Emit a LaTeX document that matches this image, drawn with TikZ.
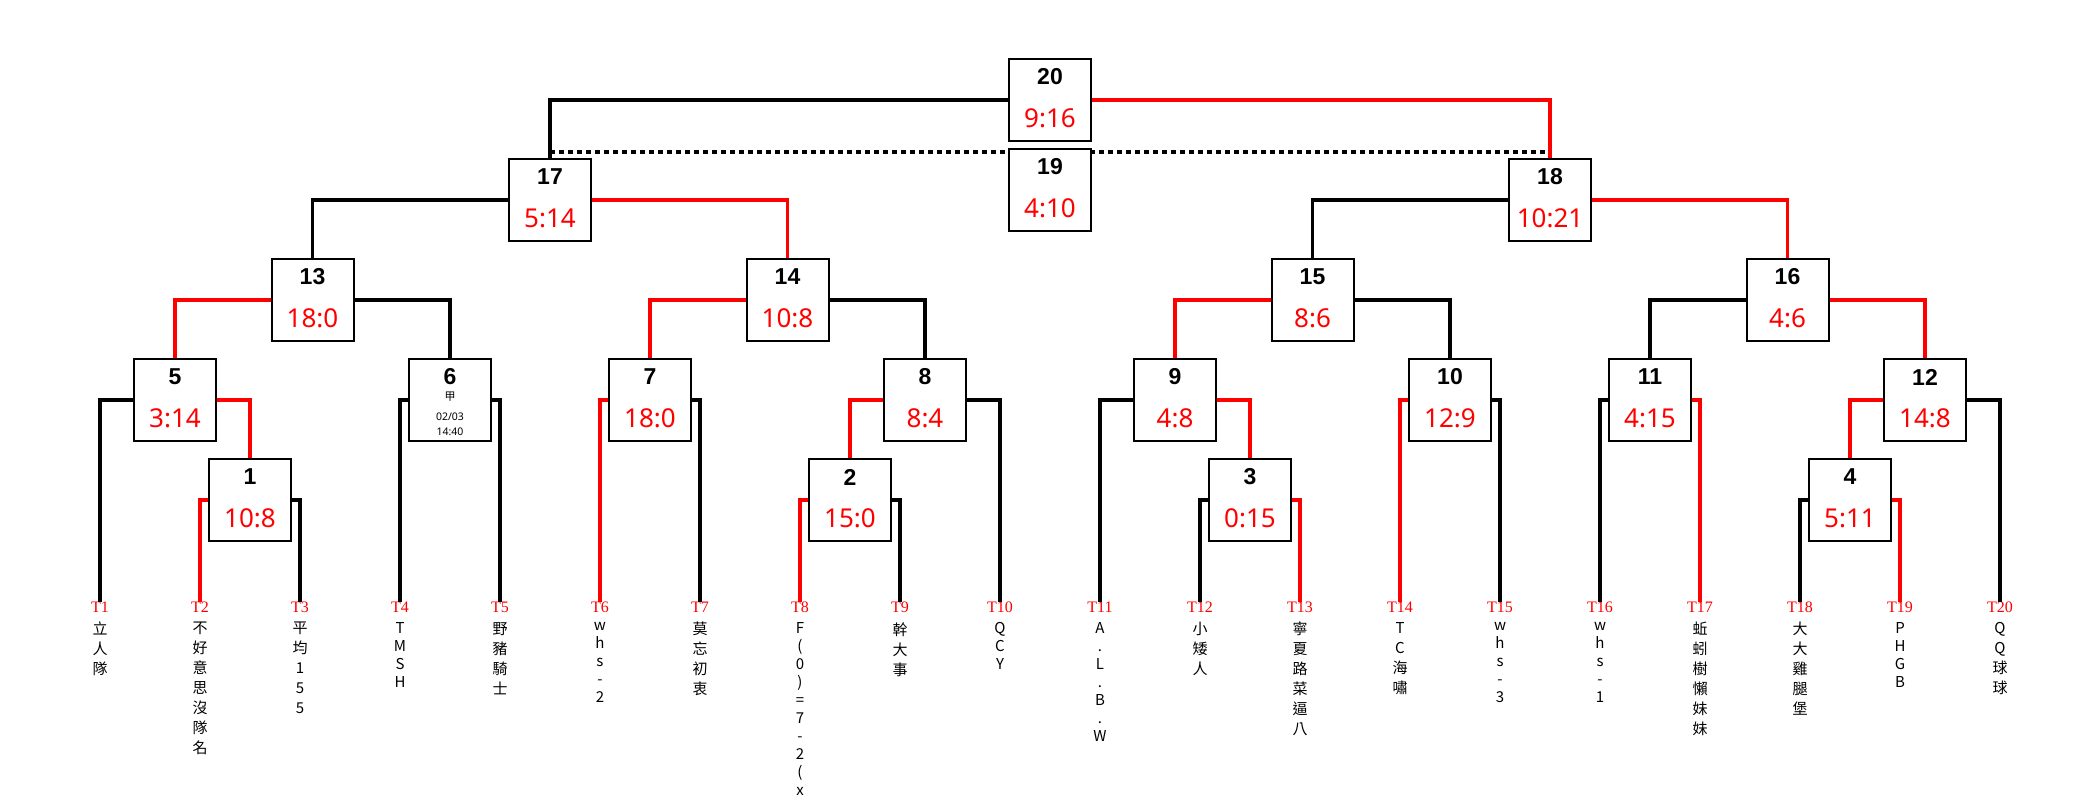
\documentclass[tikz,border=0pt]{standalone}
\usepackage{fontspec}
\setmainfont{Liberation Serif}
\newfontfamily\boxfont{Noto Sans}
\newfontfamily\numfont{Liberation Sans}
\newfontfamily\cjk{Noto Sans CJK TC}

\tikzset{
	matchbox/.style={draw, line width=2pt, fill=white, minimum width=82pt, minimum height=82pt, inner sep=0pt},
	matchno/.style={font=\numfont\bfseries\fontsize{23}{23}\selectfont},
	score/.style={text=red, font=\boxfont\fontsize{26}{26}\selectfont},
	lose/.style={line width=3.5pt},
	win/.style={line width=3.5pt, red},
	teamno/.style={text=red, anchor=north, inner sep=0pt, font=\fontsize{16}{16}\selectfont},
	team/.style={anchor=north, inner sep=0pt, align=center, font=\cjk\fontsize{15}{20}\selectfont},
	latin/.style={font=\cjk\fontsize{15}{18}\selectfont},
}

% match box: number, x, y, score
\newcommand{\match}[4]{%
	\node[matchbox] (m#1) at (#2,#3) {};
	\node[matchno] at ([yshift=23pt]m#1.center) {#1};
	\node[score] at ([yshift=-18pt]m#1.center) {#4};
}

\begin{document}
\begin{tikzpicture}[x=1pt, y=-1pt]
	\useasboundingbox (0,0) rectangle (2100,800);

	% Teams
	\foreach \i in {1,...,20}
		\node[teamno] (t\i) at (100*\i,602) {T\i};

	\node[team] (n1) at (100,622) {立\\人\\隊};
	\node[team] (n2) at (200,622) {不\\好\\意\\思\\沒\\隊\\名};
	\node[team] (n3) at (300,622) {平\\均\\1\\5\\5};
	\node[team, latin] (n4) at (400,622) {T\\M\\S\\H};
	\node[team] (n5) at (500,622) {野\\豬\\騎\\士};
	\node[team, latin] (n6) at (600,622) {w\\h\\s\\-\\2};
	\node[team] (n7) at (700,622) {莫\\忘\\初\\衷};
	\node[team, latin] (n8) at (800,622) {F\\(\\0\\)\\=\\7\\-\\2\\(\\x};
	\node[team] (n9) at (900,622) {幹\\大\\事};
	\node[team, latin] (n10) at (1000,622) {Q\\C\\Y};
	\node[team, latin] (n11) at (1100,622) {A\\.\\L\\.\\B\\.\\W};
	\node[team] (n12) at (1200,622) {小\\矮\\人};
	\node[team] (n13) at (1300,622) {寧\\夏\\路\\菜\\逼\\八};
	\node[team] (n14) at (1400,622) {T\\C\\海\\嘯};
	\node[team, latin] (n15) at (1500,622) {w\\h\\s\\-\\3};
	\node[team, latin] (n16) at (1600,622) {w\\h\\s\\-\\1};
	\node[team] (n17) at (1700,622) {蚯\\蚓\\樹\\懶\\妹\\妹};
	\node[team] (n18) at (1800,622) {大\\大\\雞\\腿\\堡};
	\node[team, latin] (n19) at (1900,622) {P\\H\\G\\B};
	\node[team] (n20) at (2000,622) {Q\\Q\\球\\球};

	% Matches
	\match{1}{250}{500}{10:8}
	\match{2}{850}{500}{15:0}
	\match{3}{1250}{500}{0:15}
	\match{4}{1850}{500}{5:11}
	\match{5}{175}{400}{3:14}
	\node[matchbox] (m6) at (450,400) {};
	\node[matchno] at ([yshift=23pt]m6.center) {6};
	\node[font=\cjk\fontsize{11}{11}\selectfont] at ([yshift=3pt]m6.center) {甲};
	\node[font=\boxfont\fontsize{10.5}{10.5}\selectfont] at ([yshift=-17pt]m6.center) {02/03};
	\node[font=\boxfont\fontsize{10.5}{10.5}\selectfont] at ([yshift=-32pt]m6.center) {14:40};
	\match{7}{650}{400}{18:0}
	\match{8}{925}{400}{8:4}
	\match{9}{1175}{400}{4:8}
	\match{10}{1450}{400}{12:9}
	\match{11}{1650}{400}{4:15}
	\match{12}{1925}{400}{14:8}
	\match{13}{312.5}{300}{18:0}
	\match{14}{787.5}{300}{10:8}
	\match{15}{1312.5}{300}{8:6}
	\match{16}{1787.5}{300}{4:6}
	\match{17}{550}{200}{5:14}
	\match{18}{1550}{200}{10:21}
	\match{20}{1050}{100}{9:16}

	% Third place line, under box 19
	\draw[lose, dash pattern=on 4.5pt off 4.5pt] ([yshift=6pt]m17.north) -- ([yshift=6pt]m18.north);
	\match{19}{1050}{190}{4:10}

	% Final and semis
	\draw[lose] (m20.west) -| (m17.north);
	\draw[win] (m20.east) -| (m18.north);
	\draw[lose] (m17.west) -| (m13.north);
	\draw[win] (m17.east) -| (m14.north);
	\draw[lose] (m18.west) -| (m15.north);
	\draw[win] (m18.east) -| (m16.north);

	% Quarters
	\draw[win] (m13.west) -| (m5.north);
	\draw[lose] (m13.east) -| (m6.north);
	\draw[win] (m14.west) -| (m7.north);
	\draw[lose] (m14.east) -| (m8.north);
	\draw[win] (m15.west) -| (m9.north);
	\draw[lose] (m15.east) -| (m10.north);
	\draw[lose] (m16.west) -| (m11.north);
	\draw[win] (m16.east) -| (m12.north);

	% Second round
	\draw[lose] (m5.west) -| (t1.north);
	\draw[win] (m5.east) -| (m1.north);
	\draw[lose] (m6.west) -| (t4.north);
	\draw[lose] (m6.east) -| (t5.north);
	\draw[win] (m7.west) -| (t6.north);
	\draw[lose] (m7.east) -| (t7.north);
	\draw[win] (m8.west) -| (m2.north);
	\draw[lose] (m8.east) -| (t10.north);
	\draw[lose] (m9.west) -| (t11.north);
	\draw[win] (m9.east) -| (m3.north);
	\draw[win] (m10.west) -| (t14.north);
	\draw[lose] (m10.east) -| (t15.north);
	\draw[lose] (m11.west) -| (t16.north);
	\draw[win] (m11.east) -| (t17.north);
	\draw[win] (m12.west) -| (m4.north);
	\draw[lose] (m12.east) -| (t20.north);

	% First round
	\draw[win] (m1.west) -| (t2.north);
	\draw[lose] (m1.east) -| (t3.north);
	\draw[win] (m2.west) -| (t8.north);
	\draw[lose] (m2.east) -| (t9.north);
	\draw[lose] (m3.west) -| (t12.north);
	\draw[win] (m3.east) -| (t13.north);
	\draw[lose] (m4.west) -| (t18.north);
	\draw[win] (m4.east) -| (t19.north);
\end{tikzpicture}
\end{document}
